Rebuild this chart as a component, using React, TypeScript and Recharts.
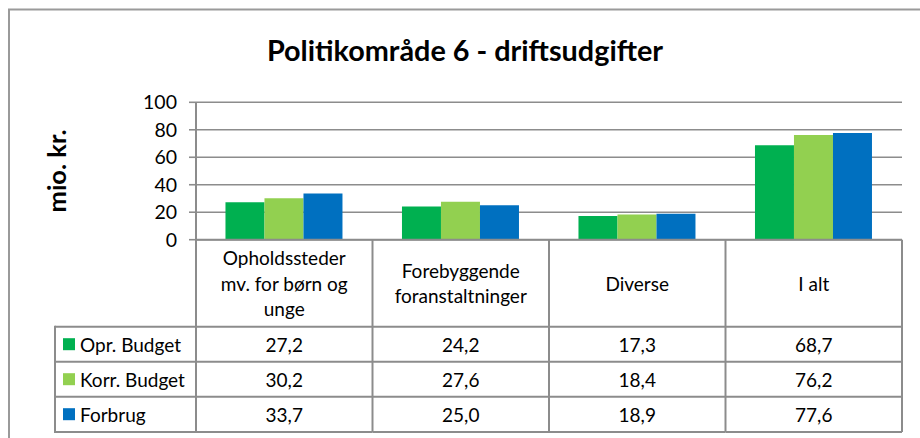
import React from 'react';
import { BarChart, Bar, XAxis, YAxis, CartesianGrid } from 'recharts';

const categories = ['Opholdssteder mv. for børn og unge', 'Forebyggende foranstaltninger', 'Diverse', 'I alt'];
const categoryLines = [['Opholdssteder', 'mv. for børn og', 'unge'], ['Forebyggende', 'foranstaltninger'], ['Diverse'], ['I alt']];
const oprBudget = [27.2, 24.2, 17.3, 68.7];
const korrBudget = [30.2, 27.6, 18.4, 76.2];
const forbrug = [33.7, 25.0, 18.9, 77.6];
const seriesNames = ['Opr. Budget', 'Korr. Budget', 'Forbrug'];
const seriesKeys = ['opr', 'korr', 'forbrug'];
const seriesColors = ['#00B050', '#92D050', '#0070C0'];
const seriesValues = [oprBudget, korrBudget, forbrug];
const yTicks = [0, 20, 40, 60, 80, 100];
const title = 'Politikområde 6 - driftsudgifter';
const yLabel = 'mio. kr.';

const data = categories.map((c, i) => ({
  name: c,
  opr: oprBudget[i],
  korr: korrBudget[i],
  forbrug: forbrug[i],
}));

const W = 920;
const H = 438;
const PLOT_LEFT = 196;
const PLOT_RIGHT = 902;
const PLOT_TOP = 102.3;
const AXIS_Y = 239.7;
const TABLE_BOTTOM = 432;
const HEADER_H = 87;
const ROW_H = 35;
const BAND = (PLOT_RIGHT - PLOT_LEFT) / categories.length;
const LINE = '#8C8C8C';
const FONT = 'Lato, "Open Sans", sans-serif';
const TFS = 19;

const fmt = (v: number) => v.toFixed(1).replace('.', ',');

const TableTick = (props: any) => {
  const { x, payload } = props;
  const i = payload.index;
  const half = BAND / 2;
  const lines = categoryLines[i];
  const headerCenter = AXIS_Y + HEADER_H / 2;
  const lh = 25.5;
  const rowTop = AXIS_Y + HEADER_H;
  return (
    <g>
      <line x1={x + half} y1={AXIS_Y} x2={x + half} y2={TABLE_BOTTOM} stroke={LINE} strokeWidth={2} />
      {i === 0 && <line x1={x - half} y1={AXIS_Y} x2={x - half} y2={TABLE_BOTTOM} stroke={LINE} strokeWidth={2} />}
      {lines.map((l, k) => (
        <text key={k} x={x} y={headerCenter + (k - (lines.length - 1) / 2) * lh} textAnchor="middle"
          dominantBaseline="central" fontSize={TFS} fontFamily={FONT} fill="#000">{l}</text>
      ))}
      {seriesValues.map((vals, r) => (
        <g key={r}>
          <line x1={x - half} y1={rowTop + r * ROW_H} x2={x + half} y2={rowTop + r * ROW_H} stroke={LINE} strokeWidth={2} />
          <text x={x} y={rowTop + r * ROW_H + ROW_H / 2} textAnchor="middle" dominantBaseline="central"
            fontSize={TFS} fontFamily={FONT} fill="#000">{fmt(vals[i])}</text>
        </g>
      ))}
      <line x1={x - half} y1={TABLE_BOTTOM} x2={x + half} y2={TABLE_BOTTOM} stroke={LINE} strokeWidth={2} />
    </g>
  );
};

export default function App() {
  const rowTop = AXIS_Y + HEADER_H;
  const tableLeft = 55;
  return (
    <div style={{ position: 'absolute', left: 0, top: 0, width: W, height: H, background: '#fff', overflow: 'hidden' }}>
      <BarChart width={W} height={H} data={data}
        margin={{ top: PLOT_TOP, right: W - PLOT_RIGHT, bottom: H - AXIS_Y - 192, left: PLOT_LEFT - 60 }}
        barCategoryGap="16.7%" barGap={0}>
        <CartesianGrid vertical={false} stroke={LINE} strokeWidth={1.6} />
        <XAxis dataKey="name" height={192} interval={0} tickLine={false}
          axisLine={{ stroke: LINE, strokeWidth: 2 }} tick={<TableTick />} />
        <YAxis width={60} domain={[0, 100]} ticks={yTicks} tickSize={7} tickMargin={12}
          axisLine={{ stroke: LINE, strokeWidth: 2 }} tickLine={{ stroke: LINE, strokeWidth: 1.6 }}
          tick={{ fontSize: 19.5, fontFamily: FONT, fill: '#000' }} />
        {seriesKeys.map((k, s) => (
          <Bar key={k} dataKey={k} name={seriesNames[s]} fill={seriesColors[s]} isAnimationActive={false} />
        ))}
      </BarChart>
      <svg width={W} height={H} style={{ position: 'absolute', left: 0, top: 0, pointerEvents: 'none' }}>
        <rect x={9} y={9.5} width={2000} height={2000} fill="none" stroke="#9A9A9A" strokeWidth={2} />
        <text x={465} y={61} textAnchor="middle" fontSize={28.8} fontWeight="bold" fontFamily={FONT} fill="#000">{title}</text>
        <text x={66} y={171} transform="rotate(-90 66 171)" textAnchor="middle" fontSize={25.5} fontWeight="bold"
          fontFamily={FONT} fill="#000">{yLabel}</text>
        <line x1={tableLeft} y1={rowTop - 1} x2={tableLeft} y2={TABLE_BOTTOM + 1} stroke={LINE} strokeWidth={2} />
        {seriesNames.map((n, r) => (
          <g key={n}>
            <line x1={tableLeft} y1={rowTop + r * ROW_H} x2={PLOT_LEFT} y2={rowTop + r * ROW_H} stroke={LINE} strokeWidth={2} />
            <rect x={63} y={rowTop + r * ROW_H + ROW_H / 2 - 6} width={12} height={12} fill={seriesColors[r]} />
            <text x={80} y={rowTop + r * ROW_H + ROW_H / 2} dominantBaseline="central" fontSize={TFS}
              fontFamily={FONT} fill="#000">{n}</text>
          </g>
        ))}
        <line x1={tableLeft} y1={TABLE_BOTTOM} x2={PLOT_LEFT} y2={TABLE_BOTTOM} stroke={LINE} strokeWidth={2} />
      </svg>
    </div>
  );
}
